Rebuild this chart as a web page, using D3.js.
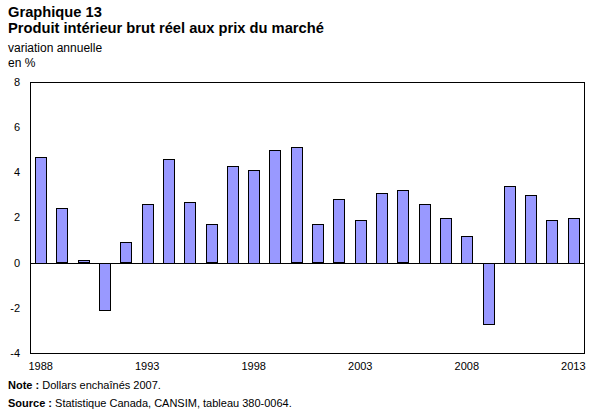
<!DOCTYPE html>
<html>
<head>
<meta charset="utf-8">
<script src="https://cdn.jsdelivr.net/npm/d3@7"></script>
<style>
  body { margin: 0; background: #fff; }
  text { font-family: "Liberation Sans", Arial, sans-serif; fill: #000; }
</style>
</head>
<body>
<div id="chart"></div>
<script>
// years and annual change (%)
const years = d3.range(1988, 2014);
const values = [4.7, 2.4, 0.1, -2.1, 0.9, 2.6, 4.6, 2.7, 1.7, 4.3, 4.1, 5.0, 5.1,
                1.7, 2.8, 1.9, 3.1, 3.2, 2.6, 2.0, 1.2, -2.7, 3.4, 3.0, 1.9, 2.0];
const yTicks = [-4, -2, 0, 2, 4, 6, 8];
const xTickLabels = [1988, 1993, 1998, 2003, 2008, 2013];

const data = years.map((y, i) => ({ year: y, value: values[i] }));

const W = 610, H = 418;
const margin = { top: 82, right: 26, bottom: 65, left: 30 };
const width = W - margin.left - margin.right;
const height = H - margin.top - margin.bottom;

const svg = d3.select("#chart").append("svg")
    .attr("width", W)
    .attr("height", H);

// titles
svg.append("text").attr("x", 8).attr("y", 17)
    .style("font-size", "14.7px").style("font-weight", "bold")
    .text("Graphique 13");
svg.append("text").attr("x", 8).attr("y", 33)
    .style("font-size", "14.7px").style("font-weight", "bold")
    .text("Produit intérieur brut réel aux prix du marché");
svg.append("text").attr("x", 8).attr("y", 52)
    .style("font-size", "12px").text("variation annuelle");
svg.append("text").attr("x", 8).attr("y", 67)
    .style("font-size", "12px").text("en %");

const g = svg.append("g")
    .attr("transform", "translate(" + margin.left + "," + margin.top + ")");

const x = d3.scaleBand()
    .domain(years)
    .range([0, width])
    .paddingInner(0.48)
    .paddingOuter(0.24);

const y = d3.scaleLinear()
    .domain([-4, 8])
    .range([height, 0]);

// y labels
g.selectAll(".ylab")
    .data(yTicks)
    .enter().append("text")
    .attr("x", -10)
    .attr("y", d => y(d))
    .attr("dy", "0.35em")
    .attr("text-anchor", "end")
    .style("font-size", "11px")
    .text(d => d);

// bars
g.selectAll(".bar")
    .data(data)
    .enter().append("rect")
    .attr("class", "bar")
    .attr("x", d => Math.round(x(d.year)) + 0.5)
    .attr("width", Math.round(x.bandwidth()))
    .attr("y", d => Math.round(y(Math.max(0, d.value))) + 0.5)
    .attr("height", d => Math.round(Math.abs(y(d.value) - y(0))))
    .attr("fill", "#9999ff")
    .attr("stroke", "#000")
    .attr("stroke-width", 1);

// zero line
g.append("line")
    .attr("x1", 0).attr("x2", width)
    .attr("y1", Math.round(y(0)) + 0.5).attr("y2", Math.round(y(0)) + 0.5)
    .attr("stroke", "#000");

// frame
g.append("rect")
    .attr("x", 0.5).attr("y", 0.5)
    .attr("width", width).attr("height", height)
    .attr("fill", "none")
    .attr("stroke", "#000");

// x labels
g.selectAll(".xlab")
    .data(xTickLabels)
    .enter().append("text")
    .attr("x", d => x(d) + x.bandwidth() / 2)
    .attr("y", height + 17)
    .attr("text-anchor", "middle")
    .style("font-size", "11px")
    .text(d => d);

// notes
const note = svg.append("text").attr("x", 8).attr("y", 389).style("font-size", "11px");
note.append("tspan").style("font-weight", "bold").text("Note : ");
note.append("tspan").text("Dollars enchaînés 2007.");

const src = svg.append("text").attr("x", 8).attr("y", 407).style("font-size", "11px");
src.append("tspan").style("font-weight", "bold").text("Source : ");
src.append("tspan").text("Statistique Canada, CANSIM, tableau 380-0064.");
</script>
</body>
</html>
